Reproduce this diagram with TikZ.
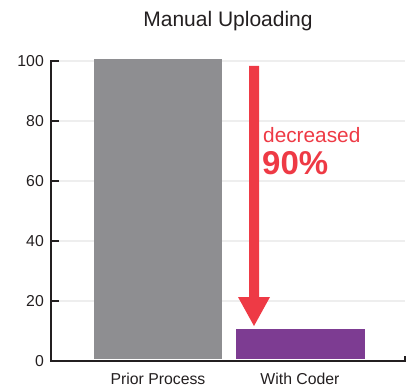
\documentclass[tikz,border=0pt]{standalone}
\usepackage{fontspec}
\setmainfont{Liberation Sans}
\definecolor{axisc}{HTML}{231F20}
\definecolor{gridc}{HTML}{EEEEEE}
\definecolor{barg}{HTML}{8E8E91}
\definecolor{barp}{HTML}{7D3C92}
\definecolor{redc}{HTML}{EE3A45}
\begin{document}
\begin{tikzpicture}[x=1pt,y=-1pt,
  axisline/.style={draw=axisc,line width=2.4pt},
  gridline/.style={draw=gridc,line width=1.4pt},
  ticklab/.style={anchor=east,font=\fontsize{15.8}{16}\selectfont,text=axisc,inner sep=0pt},
  catlab/.style={anchor=base,font=\fontsize{15.8}{16}\selectfont,text=axisc,inner sep=0pt}]
\useasboundingbox (0,0) rectangle (409,387);
% title
\node[anchor=base,font=\fontsize{21}{21}\selectfont,text=axisc,inner sep=0pt] (title) at (228,27) {Manual Uploading};
% gridlines and ticks
\foreach \v/\yy in {100/61,80/121,60/181,40/241,20/301} {
  \draw[gridline] (59,\yy) -- (405,\yy);
  \draw[axisline,line width=2.2pt] (51,\yy) -- (59,\yy);
  \node[ticklab] (t\v) at (44,\yy) {\v};
}
\node[ticklab] (t0) at (44,361) {0};
% bars
\fill[barg] (94,59) rectangle (222,359);
\fill[barp] (236,329) rectangle (365,359);
% axes
\draw[axisline,line cap=rect] (51,61) -- (51,361) -- (405,361) -- (405,357);
% category labels
\node[catlab] (c1) at (158,384) {Prior Process};
\node[catlab] (c2) at (300,384) {With Coder};
% arrow
\fill[redc] (249,66) -- (259,66) -- (259,297) -- (270,297) -- (254,326) -- (238,297) -- (249,297) -- cycle;
\node[anchor=base west,inner sep=0pt,text=redc,font=\fontsize{20.8}{20}\selectfont] (dec) at (263,143) {decreased};
\node[anchor=base west,inner sep=0pt,text=redc,font=\fontsize{33}{33}\bfseries\selectfont] (pct) at (262,175) {90\%};
\end{tikzpicture}
\end{document}
